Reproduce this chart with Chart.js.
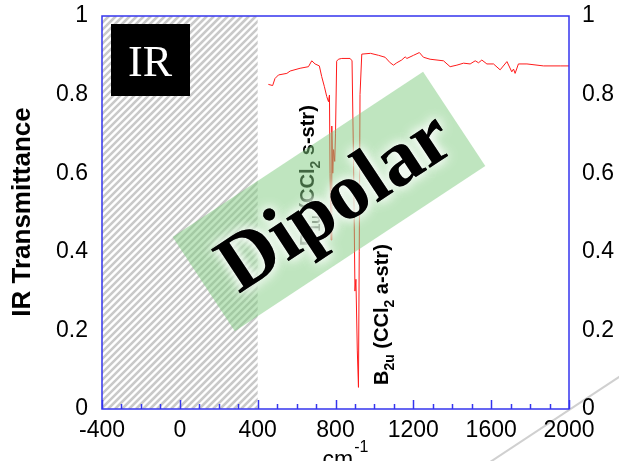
<!DOCTYPE html>
<html>
<head>
<meta charset="utf-8">
<script src="https://cdn.jsdelivr.net/npm/chart.js@4.4.1/dist/chart.umd.min.js"></script>
<style>
  html, body { margin: 0; padding: 0; background: #fff; }
  #wrap { width: 619px; height: 461px; }
</style>
</head>
<body>
<div id="wrap"><canvas id="chart" width="619" height="461"></canvas></div>
<script>
// spectrum (cm-1 vs transmittance)
const wavenumber = [455, 477, 489, 507, 550, 567, 618, 661, 678, 695, 717, 729, 743, 755, 764, 769,
  772, 777, 781, 786, 790, 796, 800, 806, 815, 832, 875, 885, 893, 900, 905, 912, 918, 922, 926, 935,
  980, 1021, 1055, 1081, 1098, 1115, 1140, 1158, 1167, 1201, 1231, 1252, 1286, 1355, 1389, 1424,
  1458, 1492, 1518, 1535, 1552, 1578, 1612, 1646, 1681, 1706, 1715, 1723, 1740, 1784, 1869, 1955, 2000];
const transmittance = [0.826, 0.823, 0.841, 0.850, 0.854, 0.860, 0.867, 0.871, 0.886, 0.878, 0.873, 0.846, 0.820, 0.795, 0.782, 0.799,
  0.60, 0.43, 0.72, 0.60, 0.66, 0.63, 0.70, 0.885, 0.89, 0.892, 0.892, 0.886, 0.62, 0.30, 0.33, 0.15, 0.055, 0.40, 0.80, 0.903,
  0.905, 0.900, 0.895, 0.881, 0.875, 0.881, 0.888, 0.896, 0.892, 0.900, 0.907, 0.895, 0.890, 0.886, 0.871, 0.875,
  0.880, 0.878, 0.886, 0.881, 0.888, 0.878, 0.878, 0.863, 0.884, 0.858, 0.865, 0.854, 0.878, 0.878, 0.873, 0.873, 0.873];
const xTicks = [-400, 0, 400, 800, 1200, 1600, 2000];
const yTicks = [0, 0.2, 0.4, 0.6, 0.8, 1];
const hatchRange = [-400, 400];

const BLUE = '#3434ee';
const SANS = '"Liberation Sans", Arial, sans-serif';
const SERIF = '"Liberation Serif", "Times New Roman", serif';

function fmtY(v) { return String(Number(v.toFixed(1))); }

function vLabel(ctx, x, y, parts, size) {
  ctx.save();
  ctx.translate(x, y);
  ctx.rotate(-Math.PI / 2);
  ctx.fillStyle = '#000';
  ctx.textBaseline = 'alphabetic';
  let cx = 0;
  parts.forEach(([t, sub]) => {
    ctx.font = `bold ${sub ? Math.round(size * 0.7) : size}px ${SANS}`;
    ctx.fillText(t, cx, sub ? size * 0.3 : 0);
    cx += ctx.measureText(t).width;
  });
  ctx.restore();
}

// keep the plot box where the picture has it
function noPad(s) { s.paddingTop = 0; s.paddingBottom = 0; }

const decor = {
  id: 'decor',
  beforeDraw(chart) {
    const ctx = chart.ctx;
    // faint diagonal stroke in the lower right corner
    ctx.save();
    ctx.strokeStyle = '#d0d0d0';
    ctx.lineWidth = 2;
    ctx.beginPath();
    ctx.moveTo(478, 470);
    ctx.lineTo(622, 375);
    ctx.stroke();
    ctx.restore();
  },
  beforeDatasetsDraw(chart) {
    const { ctx, chartArea: a, scales: { x } } = chart;
    const x0 = x.getPixelForValue(hatchRange[0]), x1 = x.getPixelForValue(hatchRange[1]);
    ctx.save();
    ctx.beginPath();
    ctx.rect(x0, a.top, x1 - x0, a.bottom - a.top);
    ctx.clip();
    ctx.strokeStyle = '#c9c9c9';
    ctx.lineWidth = 2.6;
    const h = a.bottom - a.top;
    for (let p = x0 - h; p < x1 + h; p += 7) {
      ctx.beginPath();
      ctx.moveTo(p, a.bottom);
      ctx.lineTo(p + h, a.top);
      ctx.stroke();
    }
    ctx.restore();
  },
  afterDatasetsDraw(chart) {
    const { ctx, chartArea: a, scales: { x, y } } = chart;
    ctx.save();
    // frame
    ctx.strokeStyle = BLUE;
    ctx.lineWidth = 1.5;
    ctx.strokeRect(a.left, a.top, a.right - a.left, a.bottom - a.top);
    // ticks on x axis, pointing inwards
    for (let v = -400; v <= 2000; v += 100) {
      const px = Math.round(x.getPixelForValue(v)) + 0.5;
      const len = v % 400 === 0 ? 9 : 5;
      ctx.beginPath();
      ctx.moveTo(px, a.bottom);
      ctx.lineTo(px, a.bottom - len);
      ctx.stroke();
    }

    // IR badge
    ctx.fillStyle = '#000';
    ctx.fillRect(a.left + 9, a.top + 8, 79, 72);
    ctx.fillStyle = '#fff';
    ctx.font = `44px ${SERIF}`;
    ctx.textAlign = 'center';
    ctx.textBaseline = 'alphabetic';
    ctx.fillText('IR', a.left + 48, a.top + 60);
    ctx.textAlign = 'left';

    // band assignments
    vLabel(ctx, x.getPixelForValue(688), 246,
      [['B', 0], ['1u', 1], [' (CCl', 0], ['2', 1], [' s-str)', 0]], 20);
    vLabel(ctx, x.getPixelForValue(1068), 385,
      [['B', 0], ['2u', 1], [' (CCl', 0], ['2', 1], [' a-str)', 0]], 20);

    // green band with "Dipolar"
    const cx = x.getPixelForValue(765), cy = y.getPixelForValue(0.529);
    const ang = -33.4 * Math.PI / 180;
    ctx.translate(cx, cy);
    ctx.rotate(ang);
    ctx.fillStyle = 'rgba(128,204,128,0.5)';
    ctx.fillRect(-150, -56, 300, 113);
    ctx.font = `bold 80px ${SERIF}`;
    ctx.textAlign = 'center';
    ctx.textBaseline = 'alphabetic';
    ctx.fillStyle = '#000';
    ctx.shadowColor = '#fff';
    ctx.shadowBlur = 12;
    ctx.fillText('Dipolar', 5, 28);
    ctx.fillText('Dipolar', 5, 28);
    ctx.restore();
  },
  afterDraw(chart) {
    const { ctx, chartArea: a } = chart;
    ctx.save();
    ctx.fillStyle = '#000';
    // y title
    ctx.translate(23, 212);
    ctx.rotate(-Math.PI / 2);
    ctx.font = `bold 26px ${SANS}`;
    ctx.textAlign = 'center';
    ctx.textBaseline = 'middle';
    ctx.fillText('IR Transmittance', 0, 0);
    ctx.restore();
    // x title, runs off the bottom edge
    ctx.save();
    ctx.fillStyle = '#000';
    ctx.font = `23px ${SANS}`;
    ctx.textBaseline = 'alphabetic';
    const w = ctx.measureText('cm').width;
    const left = (a.left + a.right) / 2 - 13;
    ctx.fillText('cm', left, 467);
    ctx.font = `16px ${SANS}`;
    ctx.fillText('-1', left + w + 1, 452);
    ctx.restore();
  }
};

const tickFont = { family: SANS, size: 23 };

new Chart(document.getElementById('chart'), {
  type: 'line',
  data: {
    datasets: [{
      data: wavenumber.map((w, i) => ({ x: w, y: transmittance[i] })),
      borderColor: '#ff1a1a',
      borderWidth: 1,
      pointRadius: 0,
      tension: 0,
      fill: false
    }]
  },
  options: {
    responsive: false,
    animation: false,
    devicePixelRatio: 1,
    layout: { padding: { top: 16, left: 0, right: 0, bottom: 0 } },
    plugins: { legend: { display: false }, tooltip: { enabled: false } },
    scales: {
      x: {
        type: 'linear', min: -400, max: 2000,
        afterBuildTicks: s => { s.ticks = xTicks.map(v => ({ value: v })); },
        ticks: { font: tickFont, color: '#000', padding: 8, maxRotation: 0, autoSkip: false, callback: v => String(v) },
        grid: { display: false, drawTicks: false },
        border: { display: false },
        afterFit: s => { s.height = 52; s.paddingLeft = 0; s.paddingRight = 0; }
      },
      y: {
        position: 'left', min: 0, max: 1,
        afterBuildTicks: s => { s.ticks = yTicks.map(v => ({ value: v })); },
        ticks: { font: tickFont, color: '#000', padding: 14, callback: fmtY },
        grid: { display: false, drawTicks: false },
        border: { display: false },
        afterFit: s => { s.width = 102; noPad(s); }
      },
      y2: {
        position: 'right', min: 0, max: 1,
        afterBuildTicks: s => { s.ticks = yTicks.map(v => ({ value: v })); },
        ticks: { font: tickFont, color: '#000', padding: 13, callback: fmtY },
        grid: { display: false, drawTicks: false },
        border: { display: false },
        afterFit: s => { s.width = 50; noPad(s); }
      }
    }
  },
  plugins: [decor]
});
</script>
</body>
</html>
